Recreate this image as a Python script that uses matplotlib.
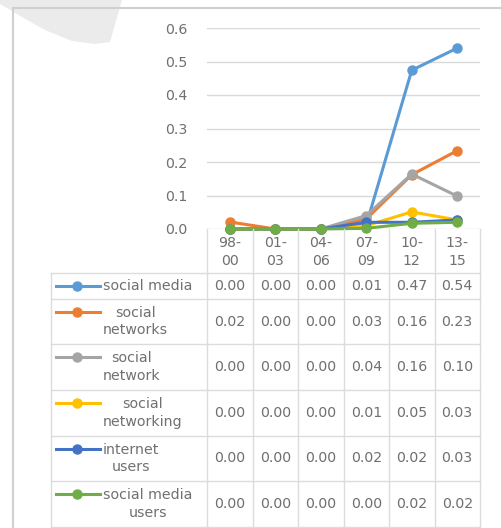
import matplotlib
matplotlib.use("Agg")
import matplotlib.pyplot as plt
from matplotlib.lines import Line2D
from matplotlib.patches import Polygon

# ---- data ----
categories = ["98-\n00", "01-\n03", "04-\n06", "07-\n09", "10-\n12", "13-\n15"]
series_names = ["social media", "social\nnetworks", "social\nnetwork",
                "social\nnetworking", "internet\nusers", "social media\nusers"]
social_media = [0.0, 0.0, 0.0, 0.012, 0.474, 0.540]
social_networks = [0.021, 0.0, 0.0, 0.030, 0.162, 0.234]
social_network = [0.0, 0.0, 0.0, 0.040, 0.164, 0.098]
social_networking = [0.0, 0.0, 0.0, 0.010, 0.051, 0.027]
internet_users = [0.0, 0.0, 0.0, 0.020, 0.020, 0.027]
social_media_users = [0.0, 0.0, 0.0, 0.002, 0.017, 0.020]
series_values = [social_media, social_networks, social_network,
                 social_networking, internet_users, social_media_users]
colors = ["#5B9BD5", "#ED7D31", "#A5A5A5", "#FFC000", "#4472C4", "#70AD47"]
yticks = [0.0, 0.1, 0.2, 0.3, 0.4, 0.5, 0.6]

W, H = 501, 528
fig = plt.figure(figsize=(W / 100, H / 100), dpi=100)
fig.patch.set_facecolor("white")
FONT = "DejaVu Sans"
TXT = "#707070"
GRID = "#d9d9d9"
FS = 10.2


def fx(x):
    return x / W


def fy(y):
    return 1 - y / H


# watermark and frame
wm = Polygon([(fx(0), fy(0)), (fx(122), fy(0)), (fx(110), fy(42)), (fx(95), fy(44)),
              (fx(72), fy(41)), (fx(45), fy(30)), (fx(22), fy(17)), (fx(0), fy(4))],
             closed=True, transform=fig.transFigure, facecolor="#ebebeb",
             edgecolor="none", zorder=0)
fig.add_artist(wm)
fig.add_artist(Line2D([fx(13), fx(13)], [fy(8), fy(528)], transform=fig.transFigure,
                      color="#d0d0d0", lw=1.5))
fig.add_artist(Line2D([fx(13), fx(501)], [fy(8), fy(8)], transform=fig.transFigure,
                      color="#d0d0d0", lw=1.5))

# ---- plot area ----
x0, x1 = 207, 480
ytop, ybot = 28, 229
ax = fig.add_axes([fx(x0), fy(ybot), (x1 - x0) / W, (ybot - ytop) / H])
ax.set_xlim(-0.5, len(categories) - 0.5)
ax.set_ylim(0, 0.6)
for s in ax.spines.values():
    s.set_visible(False)
for t in yticks:
    ax.axhline(t, color=GRID, lw=1, zorder=0)
ax.set_yticks(yticks)
ax.set_yticklabels([f"{t:.1f}" for t in yticks], fontfamily=FONT, fontsize=FS, color=TXT)
ax.tick_params(axis="y", length=0, pad=14)
ax.set_xticks([])
ax.patch.set_alpha(0)
xs = list(range(len(categories)))
for i, (vals, c) in enumerate(zip(series_values, colors)):
    ax.plot(xs, vals, color=c, lw=2.2, marker="o", markersize=6.5, zorder=3 + i,
            clip_on=False, solid_capstyle="round")

# ---- data table ----
col_w = (x1 - x0) / len(categories)
col_edges = [x0 + i * col_w for i in range(len(categories) + 1)]
row_edges = [273, 299, 344, 390, 436, 481, 527]
tleft = 51
LC = "#dcdcdc"


def hline(y, xa, xb):
    fig.add_artist(Line2D([fx(xa), fx(xb)], [fy(y), fy(y)], transform=fig.transFigure,
                          color=LC, lw=1))


def vline(x, ya, yb):
    fig.add_artist(Line2D([fx(x), fx(x)], [fy(ya), fy(yb)], transform=fig.transFigure,
                          color=LC, lw=1))


for y in row_edges:
    hline(y, tleft, x1)
vline(tleft, row_edges[0], row_edges[-1])
for x in col_edges:
    vline(x, ybot, row_edges[-1])

# header category labels
for i, cat in enumerate(categories):
    cx = (col_edges[i] + col_edges[i + 1]) / 2
    fig.text(fx(cx), fy(252), cat, ha="center", va="center", fontfamily=FONT,
             fontsize=FS, color=TXT, linespacing=1.35, multialignment="center")

# rows
for r, (name, vals, c) in enumerate(zip(series_names, series_values, colors)):
    ya, yb = row_edges[r], row_edges[r + 1]
    cy = (ya + yb) / 2
    two = "\n" in name
    ky = cy - 10 if two else cy
    fig.add_artist(Line2D([fx(56), fx(100)], [fy(ky), fy(ky)], transform=fig.transFigure,
                          color=c, lw=2.2))
    fig.add_artist(Line2D([fx(77)], [fy(ky)], transform=fig.transFigure, color=c,
                          marker="o", markersize=6.5, lw=0))
    fig.text(fx(103), fy(cy), name, ha="left", va="center", fontfamily=FONT,
             fontsize=FS, color=TXT, linespacing=1.35, multialignment="center")
    for i, v in enumerate(vals):
        cx = (col_edges[i] + col_edges[i + 1]) / 2
        fig.text(fx(cx), fy(cy), f"{v:.2f}", ha="center", va="center", fontfamily=FONT,
                 fontsize=FS, color=TXT)

fig.savefig("out.png", dpi=100)
